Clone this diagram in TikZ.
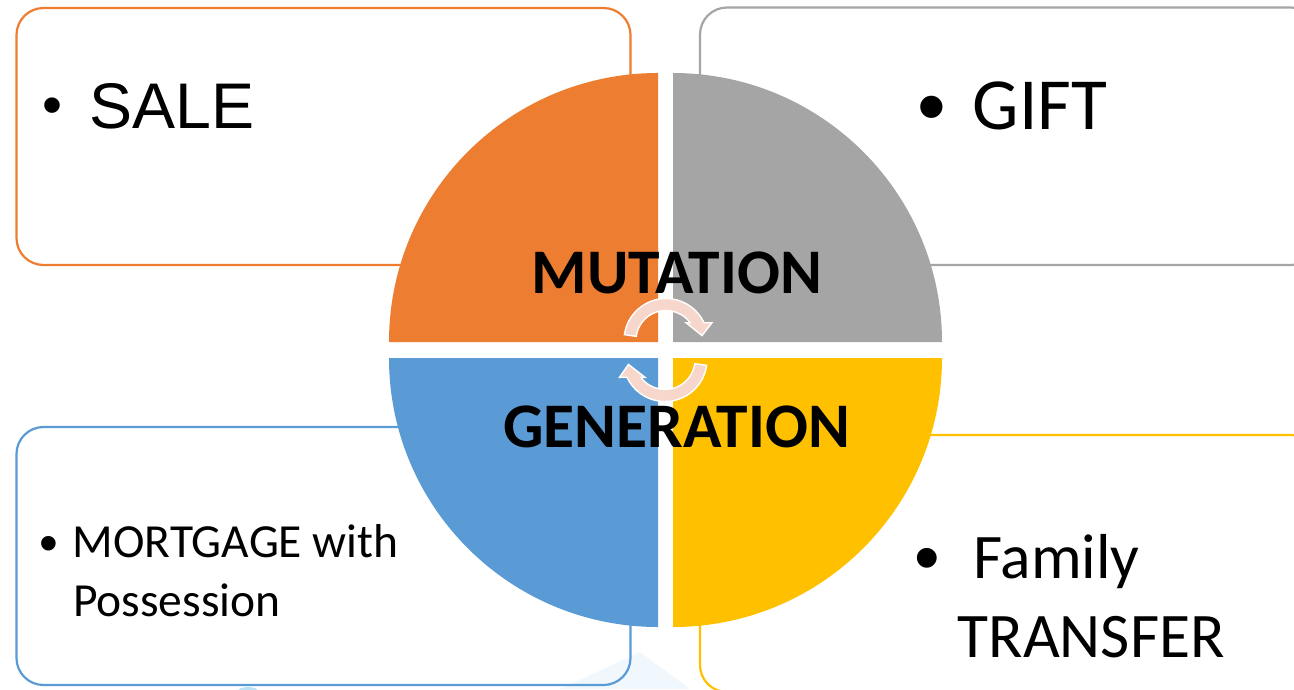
\documentclass[tikz,border=0pt]{standalone}
\usepackage{fontspec}
\usetikzlibrary{calc}
\newfontfamily\sansA{Liberation Sans}
\newfontfamily\calib{Carlito}
\definecolor{qorange}{RGB}{237,125,49}
\definecolor{qgray}{RGB}{165,165,165}
\definecolor{qblue}{RGB}{91,155,213}
\definecolor{qyellow}{RGB}{255,192,0}
\definecolor{arrowpink}{RGB}{247,215,204}
\definecolor{hazeblue}{RGB}{241,248,253}
\definecolor{softblue}{RGB}{190,226,245}

\begin{document}
\begin{tikzpicture}[x=1pt,y=-1pt,
  card/.style={line width=2.2pt, rounded corners=27pt},
  cyclearrow/.style={fill=arrowpink, draw=white, line width=1.4pt, line join=miter},
  txt/.style={inner sep=0pt, anchor=base west, text=black},
  bigword/.style={inner sep=0pt, anchor=base, text=black,
    font=\calib\bfseries\fontsize{63.5}{63.5}\selectfont},
]
\useasboundingbox (0,0) rectangle (1294,689);
\begin{scope}
\clip (0,0) rectangle (1294,689);

% faint background traces near the lower edge
\fill[hazeblue] (560,689) -- (640,652) -- (690,689) -- cycle;
\fill[softblue] (248,691) ellipse [x radius=10, y radius=4];

% the four cards
\draw[card, qorange] (16.5,8) rectangle (630.5,265);
\draw[card, qgray]   (700,7.5) rectangle (1318,265);
\draw[card, qblue]   (16.5,427) rectangle (630.5,685);
\draw[card, qyellow] (700,435) rectangle (1318,692);

% card texts
\node[txt] (bsale) at (42.3,124.4) {\sansA\fontsize{57}{57}\selectfont •};
\node[txt] (sale) at (89,128) {\sansA\fontsize{64.5}{70}\selectfont SALE};

\node[txt] (bgift) at (917,134.6) {\sansA\fontsize{82}{82}\selectfont •};
\node[txt] (gift) at (972.5,129.3) {\calib\fontsize{73.5}{76}\selectfont GIFT};

\node[txt] (bmort) at (39.4,561.2) {\sansA\fontsize{53.6}{53.6}\selectfont •};
\node[txt] (mortgage) at (72.5,557.7) {\calib\fontsize{47.5}{50}\selectfont MORTGAGE with};
\node[txt] (possession) at (73,616.7) {\calib\fontsize{47.5}{50}\selectfont Possession};

\node[txt] (bfamily) at (913.8,582.8) {\sansA\fontsize{73}{73}\selectfont •};
\node[txt] (family) at (973,578.3) {\calib\fontsize{63.5}{66}\selectfont Family};
\node[txt] (transfer) at (957.5,657) {\calib\fontsize{63.5}{66}\selectfont TRANSFER};

% the four quadrants of the disc
\fill[qorange] (658,342) -- (389,342) arc[start angle=180, end angle=270, radius=269] -- cycle;
\fill[qgray]   (673,342) -- (673,73) arc[start angle=270, end angle=360, radius=269] -- cycle;
\fill[qyellow] (673,358) -- (942,358) arc[start angle=0, end angle=90, radius=269] -- cycle;
\fill[qblue]   (658,358) -- (658,627) arc[start angle=90, end angle=180, radius=269] -- cycle;

% centre labels
\node[bigword] (mutation) at (677,293.8) {MUTATION};
\node[bigword] (generation) at (676.5,447.3) {GENERATION};

% circular arrows in the middle
\coordinate (cu) at (666,340.5);
\coordinate (cl) at (665,359.5);
\draw[cyclearrow] ($(cu)+(188:42)$) arc[start angle=188, end angle=335, radius=42]
  -- (712,322.7) -- (702,335.6) -- (686,322.7) -- (690.1,322.7)
  arc[start angle=323.6, end angle=188, radius=30] -- cycle;
\draw[cyclearrow] ($(cl)+(8:42)$) arc[start angle=8, end angle=155, radius=42]
  -- (619.5,377.3) -- (628.5,364.4) -- (645,377.3) -- (640.9,377.3)
  arc[start angle=143.6, end angle=8, radius=30] -- cycle;
\end{scope}
\end{tikzpicture}
\end{document}
